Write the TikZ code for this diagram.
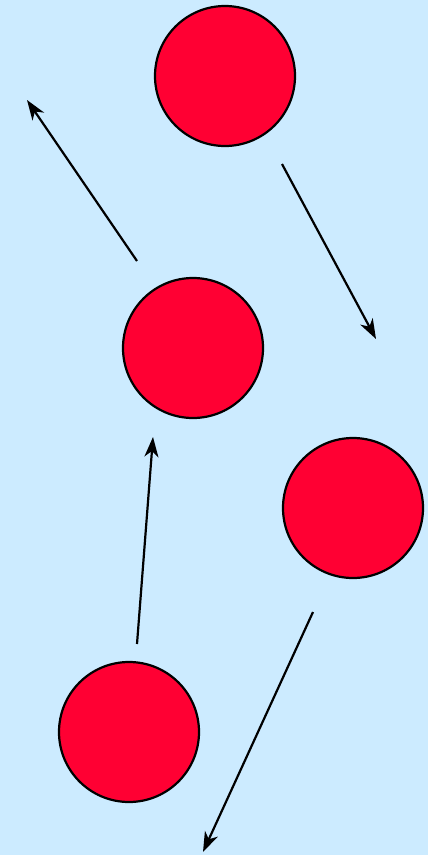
\documentclass[tikz,border=0pt]{standalone}
\usetikzlibrary{arrows.meta}
\definecolor{bg}{HTML}{CCEBFF}
\definecolor{ball}{HTML}{FF0033}
\tikzset{
  ballnode/.style={circle, draw=black, line width=2.2pt, fill=ball, minimum size=140pt, inner sep=0pt},
  mover/.style={line width=2.2pt, -{Stealth[length=20pt,width=14pt,inset=6pt]}}
}
\begin{document}
\begin{tikzpicture}[x=1pt,y=-1pt]
\fill[bg] (0,0) rectangle (428,855);
\useasboundingbox (0,0) rectangle (428,855);
\node[ballnode] (b1) at (225,76) {};
\node[ballnode] (b2) at (193,348) {};
\node[ballnode] (b3) at (353,508) {};
\node[ballnode] (b4) at (129,732) {};
\coordinate (a1s) at (137,261);
\coordinate (a1e) at (27,100);
\coordinate (a2s) at (282,164);
\coordinate (a2e) at (376,339);
\coordinate (a3s) at (137,644);
\coordinate (a3e) at (153,437);
\coordinate (a4s) at (313,612);
\coordinate (a4e) at (203,852);
\draw[mover] (a1s) -- (a1e);
\draw[mover] (a2s) -- (a2e);
\draw[mover] (a3s) -- (a3e);
\draw[mover] (a4s) -- (a4e);
\end{tikzpicture}
\end{document}
